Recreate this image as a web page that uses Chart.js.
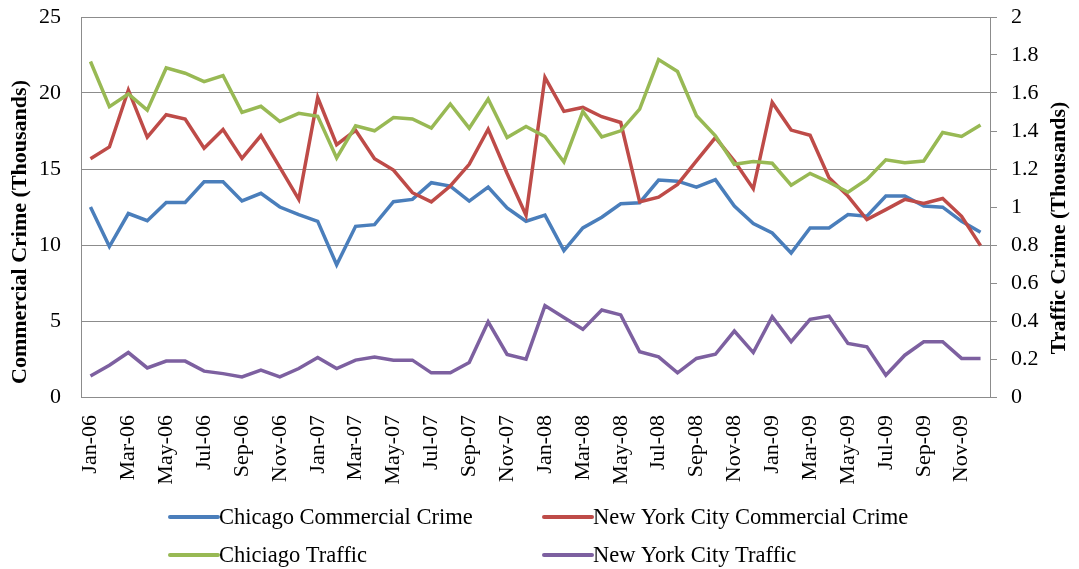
<!DOCTYPE html>
<html>
<head>
<meta charset="utf-8">
<script src="https://cdn.jsdelivr.net/npm/chart.js@4/dist/chart.umd.min.js"></script>
<style>
  html, body { margin: 0; padding: 0; background: #fff; }
  #wrap { width: 1079px; height: 569px; }
</style>
</head>
<body>
<div id="wrap"><canvas id="chart" width="1079" height="569"></canvas></div>
<script>
const MONTHS = ['Jan', 'Feb', 'Mar', 'Apr', 'May', 'Jun', 'Jul', 'Aug', 'Sep', 'Oct', 'Nov', 'Dec'];
const YEARS = ['06', '07', '08', '09'];

// Monthly figures, Jan-06 .. Dec-09 (thousands)
const chicagoCommercial = [
  12.5, 9.9, 12.07, 11.6, 12.8, 12.8, 14.16, 14.16, 12.9, 13.4, 12.5, 12.0,
  11.56, 8.7, 11.23, 11.34, 12.85, 13.0, 14.1, 13.88, 12.89, 13.81, 12.44, 11.56,
  11.96, 9.63, 11.12, 11.83, 12.71, 12.78, 14.27, 14.2, 13.81, 14.3, 12.56, 11.41,
  10.79, 9.47, 11.12, 11.12, 12.0, 11.89, 13.22, 13.22, 12.56, 12.49, 11.56, 10.84
];
const nycCommercial = [
  15.68, 16.45, 20.2, 17.1, 18.57, 18.28, 16.37, 17.6, 15.7, 17.2, 15.1, 13.0,
  19.7, 16.6, 17.55, 15.68, 14.93, 13.44, 12.84, 13.88, 15.31, 17.62, 14.7, 11.96,
  21.03, 18.79, 19.05, 18.44, 18.06, 12.84, 13.15, 13.99, 15.53, 17.07, 15.53, 13.7,
  19.38, 17.56, 17.22, 14.43, 13.22, 11.67, 12.33, 13.0, 12.73, 13.06, 11.89, 9.96
];
const chicagoTraffic = [
  1.766, 1.528, 1.595, 1.51, 1.732, 1.704, 1.66, 1.692, 1.498, 1.53, 1.45, 1.493,
  1.477, 1.258, 1.427, 1.401, 1.471, 1.463, 1.415, 1.542, 1.415, 1.568, 1.366, 1.424,
  1.371, 1.237, 1.503, 1.369, 1.401, 1.515, 1.776, 1.713, 1.48, 1.375, 1.225, 1.239,
  1.23, 1.115, 1.177, 1.131, 1.078, 1.145, 1.248, 1.233, 1.242, 1.392, 1.371, 1.431
];
const nycTraffic = [
  0.111, 0.167, 0.234, 0.153, 0.189, 0.189, 0.136, 0.123, 0.106, 0.141, 0.106, 0.15,
  0.208, 0.15, 0.194, 0.211, 0.194, 0.194, 0.127, 0.127, 0.181, 0.396, 0.224, 0.199,
  0.481, 0.418, 0.356, 0.458, 0.432, 0.238, 0.211, 0.127, 0.203, 0.225, 0.347, 0.234,
  0.423, 0.291, 0.409, 0.426, 0.282, 0.264, 0.115, 0.22, 0.291, 0.291, 0.203, 0.203
];

const labels = [];
YEARS.forEach(y => MONTHS.forEach(m => labels.push(m + '-' + y)));

const FONT = "'Liberation Serif', 'Times New Roman', serif";
const GRID = '#8c8c8c';

// axis titles + two-column legend, drawn straight on the canvas
const extras = {
  id: 'extras',
  afterDraw(chart) {
    const ctx = chart.ctx;
    ctx.save();
    ctx.fillStyle = '#000';
    ctx.font = 'bold 22px ' + FONT;
    ctx.textAlign = 'center';
    ctx.textBaseline = 'middle';

    ctx.save();
    ctx.translate(20, 232);
    ctx.rotate(-Math.PI / 2);
    ctx.fillText('Commercial Crime (Thousands)', 0, 0);
    ctx.restore();

    ctx.save();
    ctx.translate(1059, 228);
    ctx.rotate(-Math.PI / 2);
    ctx.fillText('Traffic Crime (Thousands)', 0, 0);
    ctx.restore();

    const ds = chart.data.datasets;
    const cols = [170, 544];
    const rows = [517, 555];
    ctx.font = '22.5px ' + FONT;
    ctx.textAlign = 'left';
    ds.forEach((d, i) => {
      const x = cols[i % 2];
      const y = rows[Math.floor(i / 2)];
      ctx.strokeStyle = d.borderColor;
      ctx.lineWidth = 4;
      ctx.lineCap = 'round';
      ctx.beginPath();
      ctx.moveTo(x, y);
      ctx.lineTo(x + 48, y);
      ctx.stroke();
      ctx.fillText(d.label, x + 49, y + 1);
    });
    ctx.restore();
  }
};

const lineStyle = { borderWidth: 3.5, pointRadius: 0, tension: 0, fill: false };

new Chart(document.getElementById('chart'), {
  type: 'line',
  data: {
    labels: labels,
    datasets: [
      { label: 'Chicago Commercial Crime', data: chicagoCommercial, borderColor: '#4a7ebb', yAxisID: 'y', order: 3, ...lineStyle },
      { label: 'New York City Commercial Crime', data: nycCommercial, borderColor: '#be4b48', yAxisID: 'y', order: 2, ...lineStyle },
      { label: 'Chiciago Traffic', data: chicagoTraffic, borderColor: '#98b954', yAxisID: 'y2', order: 1, ...lineStyle },
      { label: 'New York City Traffic', data: nycTraffic, borderColor: '#7d60a0', yAxisID: 'y2', order: 0, ...lineStyle }
    ]
  },
  options: {
    responsive: false,
    animation: false,
    layout: { padding: { top: 17, left: 0, right: 0, bottom: 0 } },
    plugins: {
      legend: { display: false },
      tooltip: { enabled: false }
    },
    scales: {
      x: {
        offset: true,
        grid: { display: false, offset: true },
        border: { display: true, color: GRID, width: 1 },
        ticks: {
          autoSkip: false,
          minRotation: 90,
          maxRotation: 90,
          padding: 10,
          color: '#000',
          font: { family: FONT, size: 22 },
          callback: function (value, index) {
            return index % 2 === 0 ? this.getLabelForValue(value) : '';
          }
        },
        afterFit(scale) {
          scale.height = 172;
          scale.paddingLeft = 0;
          scale.paddingRight = 0;
        }
      },
      y: {
        position: 'left',
        min: 0,
        max: 25,
        grid: { color: GRID, lineWidth: 1, drawTicks: false },
        border: { display: true, color: GRID, width: 1 },
        ticks: {
          stepSize: 5,
          padding: 20,
          color: '#000',
          font: { family: FONT, size: 22 }
        },
        afterFit(scale) {
          scale.width = 81;
          scale.paddingTop = 0;
          scale.paddingBottom = 0;
        }
      },
      y2: {
        position: 'right',
        min: 0,
        max: 2,
        grid: { drawOnChartArea: false, drawTicks: true, tickLength: 7, color: GRID },
        border: { display: true, color: GRID, width: 1 },
        ticks: {
          stepSize: 0.2,
          padding: 14,
          color: '#000',
          font: { family: FONT, size: 22 },
          callback: v => String(Math.round(v * 10) / 10)
        },
        afterFit(scale) {
          scale.width = 89;
          scale.paddingTop = 0;
          scale.paddingBottom = 0;
        }
      }
    }
  },
  plugins: [extras]
});
</script>
</body>
</html>
